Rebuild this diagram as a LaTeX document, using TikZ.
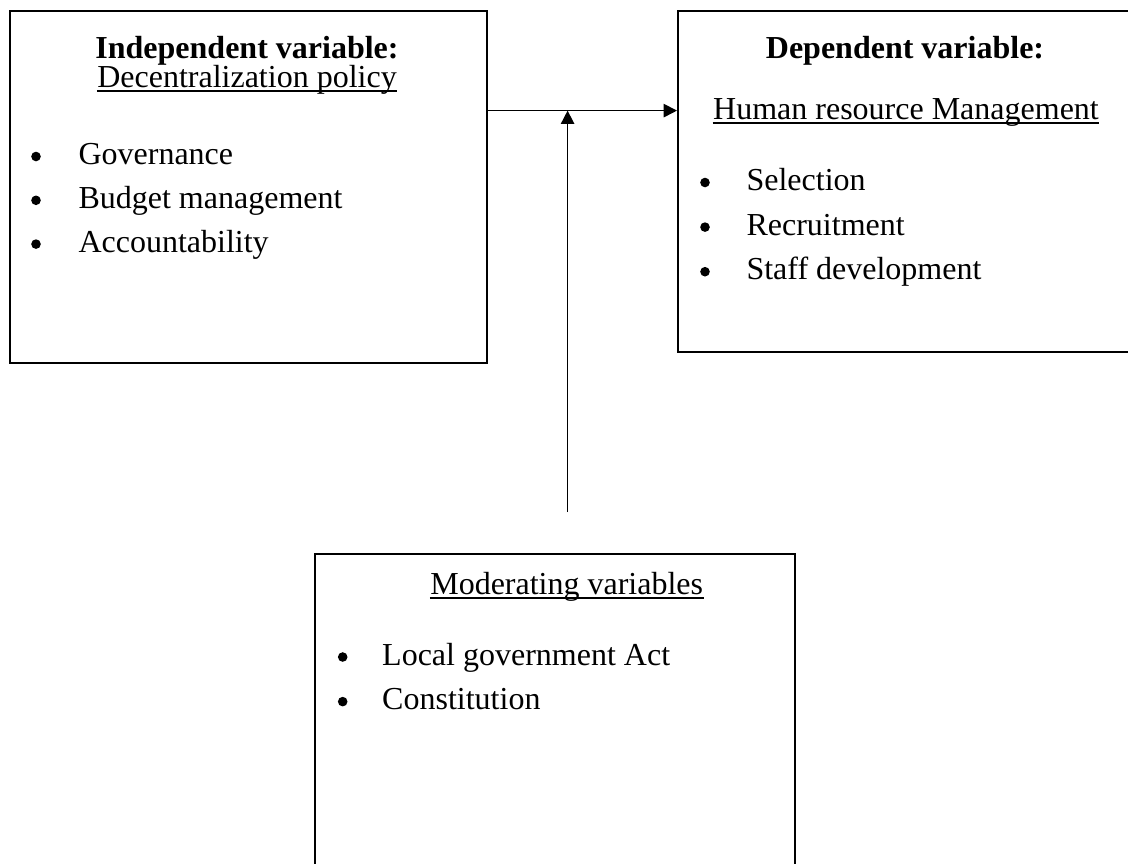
\documentclass[tikz,border=0pt]{standalone}
\usepackage{fontspec}
\setmainfont{Liberation Serif}
\usetikzlibrary{arrows.meta, positioning}

\tikzset{
  varbox/.style={draw, line width=0.8pt, inner sep=0pt, anchor=north west},
  txt/.style={inner sep=0pt, anchor=base},
  itemtxt/.style={inner sep=0pt, anchor=base west},
  dot/.style={circle, fill, inner sep=0pt, minimum size=3.6pt},
  uline/.style={line width=0.6pt},
  link/.style={-{Triangle[length=5pt, width=5pt]}, line width=0.6pt}
}

\begin{document}
\begin{tikzpicture}[x=0.375pt, y=-0.375pt, font=\fontsize{12}{14.4}\selectfont]

    \useasboundingbox (0,0) rectangle (1128,863);
    \clip (0,0) rectangle (1128,863);

    % Boxes
    \node[varbox, minimum width=178.9pt, minimum height=132pt] (indep) at (8.6,10) {};
    \node[varbox, minimum width=175pt, minimum height=127.9pt] (dep) at (677,10) {};
    \node[varbox, minimum width=180pt, minimum height=125pt] (moder) at (314,553) {};

    % Independent variable
    \node[txt] (indeptitle) at (247,58) {\textbf{Independent variable:}};
    \node[txt] (indepsub) at (247,87) {Decentralization policy};
    \foreach \entry [count=\i] in {Governance, Budget management, Accountability} {
        \node[dot] (indepdot\i) at ({36},{156.5+43.8*(\i-1)}) {};
        \node[itemtxt] (indepitem\i) at ({78},{164.5+43.8*(\i-1)}) {\entry};
    }

    % Dependent variable
    \node[txt] (deptitle) at (905,58) {\textbf{Dependent variable:}};
    \node[txt] (depsub) at (906,119) {Human resource Management};
    \foreach \entry [count=\i] in {Selection, Recruitment, Staff development} {
        \node[dot] (depdot\i) at ({705},{182.5+44.6*(\i-1)}) {};
        \node[itemtxt] (depitem\i) at ({746},{190.5+44.6*(\i-1)}) {\entry};
    }

    % Moderating variables
    \node[txt] (modertitle) at (566.7,594) {Moderating variables};
    \foreach \entry [count=\i] in {Local government Act, Constitution} {
        \node[dot] (moderdot\i) at ({342.7},{657+44.6*(\i-1)}) {};
        \node[itemtxt] (moderitem\i) at ({381.7},{665+44.6*(\i-1)}) {\entry};
    }

    % Underlines
    \foreach \n in {indepsub, depsub, modertitle}
        \draw[uline] ([yshift=-1.6pt]\n.base west) -- ([yshift=-1.6pt]\n.base east);

    % Connectors
    \coordinate (join) at (567.6,110.6);
    \coordinate (modertop) at (567.6,512);
    \draw[link] (indep.east |- join) -- (dep.west |- join);
    \draw[link] (modertop) -- (join);

\end{tikzpicture}
\end{document}
